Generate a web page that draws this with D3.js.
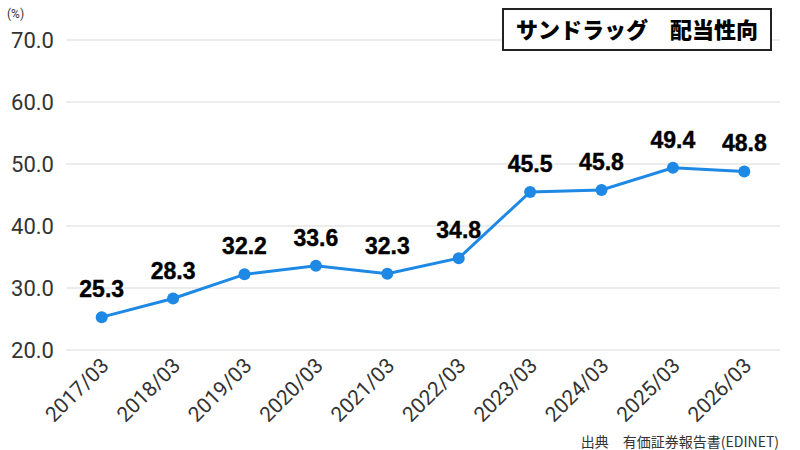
<!DOCTYPE html>
<html>
<head>
<meta charset="utf-8">
<script src="https://cdn.jsdelivr.net/npm/d3@7"></script>
<style>
  body { margin: 0; background: #fff; }
  svg { display: block; }
</style>
</head>
<body>
<svg width="800" height="450"></svg>
<script>
const periods = ['2017/03', '2018/03', '2019/03', '2020/03', '2021/03', '2022/03', '2023/03', '2024/03', '2025/03', '2026/03']
const payoutRatio = [25.3, 28.3, 32.2, 33.6, 32.3, 34.8, 45.5, 45.8, 49.4, 48.8]
const yTicks = [20, 30, 40, 50, 60, 70]

const title = 'サンドラッグ　配当性向'
const unitLabel = '(%)'
const sourceNote = '出典　有価証券報告書(EDINET)'

const svg = d3.select('svg')
const plotLeft = 66, plotRight = 780, plotTop = 40, plotBottom = 350
const jpFont = '"Noto Sans CJK JP", "Noto Sans", sans-serif'
const tickFont = 'Roboto, "Noto Sans", sans-serif'

const x = d3.scalePoint().domain(periods).range([plotLeft, plotRight]).padding(0.5)
const y = d3.scaleLinear().domain([20, 70]).range([plotBottom, plotTop])

// grid
svg.append('g').selectAll('line').data(yTicks).enter().append('line')
    .attr('x1', plotLeft).attr('x2', plotRight)
    .attr('y1', d => y(d)).attr('y2', d => y(d))
    .attr('stroke', '#d9d9d9').attr('stroke-width', 1)

// y labels
const yAxis = svg.append('g').attr('transform', `translate(${plotLeft}, 0)`)
    .call(d3.axisLeft(y).tickValues(yTicks).tickFormat(d3.format('.1f')).tickSize(0).tickPadding(12))
yAxis.select('.domain').remove()
yAxis.selectAll('text').attr('font-size', 22).attr('font-family', tickFont).attr('fill', '#333')

// x labels
const xAxis = svg.append('g').attr('transform', `translate(0, ${plotBottom})`)
    .call(d3.axisBottom(x).tickSize(0).tickPadding(0))
xAxis.select('.domain').remove()
xAxis.selectAll('text')
    .attr('font-size', 21).attr('font-family', tickFont).attr('fill', '#333')
    .attr('text-anchor', 'end').attr('dy', null)
    .attr('transform', 'translate(8, 17) rotate(-45)')

// line
const line = d3.line().x((d, i) => x(periods[i])).y(d => y(d))
svg.append('path').datum(payoutRatio)
    .attr('d', line).attr('fill', 'none')
    .attr('stroke', '#1e88e5').attr('stroke-width', 3)

svg.append('g').selectAll('circle').data(payoutRatio).enter().append('circle')
    .attr('cx', (d, i) => x(periods[i])).attr('cy', d => y(d))
    .attr('r', 6).attr('fill', '#1e88e5')

// value labels
svg.append('g').selectAll('text').data(payoutRatio).enter().append('text')
    .attr('x', (d, i) => x(periods[i])).attr('y', d => y(d) - 20)
    .attr('text-anchor', 'middle')
    .attr('font-family', '"Liberation Sans", Arial, sans-serif')
    .attr('font-weight', 'bold').attr('font-size', 23).attr('fill', '#000')
    .attr('stroke', '#000').attr('stroke-width', 0.4)
    .text(d => d3.format('.1f')(d))

// unit
svg.append('text').attr('x', 7).attr('y', 18)
    .attr('font-family', tickFont).attr('font-size', 12).attr('fill', '#333')
    .text(unitLabel)

// title box
svg.append('rect').attr('x', 503).attr('y', 9).attr('width', 268).attr('height', 41)
    .attr('fill', '#fff').attr('stroke', '#222').attr('stroke-width', 2)
svg.append('text').attr('x', 637).attr('y', 37.5)
    .attr('text-anchor', 'middle')
    .attr('font-family', jpFont).attr('font-weight', 900).attr('font-size', 22).attr('fill', '#000')
    .text(title)

// source
svg.append('text').attr('x', 779).attr('y', 447)
    .attr('text-anchor', 'end')
    .attr('font-family', jpFont).attr('font-size', 14).attr('fill', '#333')
    .text(sourceNote)
</script>
</body>
</html>
